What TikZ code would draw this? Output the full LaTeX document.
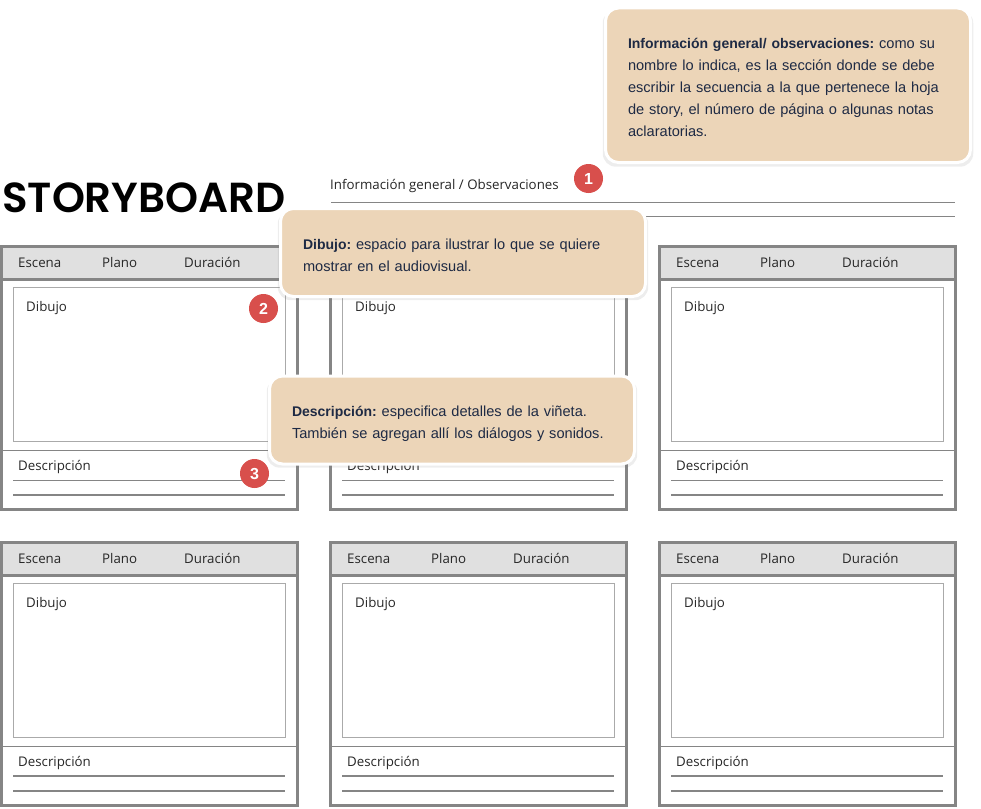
\documentclass[tikz,border=0pt]{standalone}
\usepackage{xcolor}
\usepackage{fontspec}
\setmainfont{Liberation Sans}
\newfontfamily\labelfont{Open Sans}
\newfontfamily\titlefont{Poppins}[BoldFont={Poppins SemiBold}]
\usetikzlibrary{positioning,shadows}
\definecolor{cFrame}{HTML}{858585}
\definecolor{cHead}{HTML}{E0E0E0}
\definecolor{cBox}{HTML}{ECD5B8}
\definecolor{cInk}{HTML}{1E2A44}
\definecolor{cMark}{HTML}{D84F4C}
\tikzset{
  frame/.style={draw=cFrame,line width=3pt},
  thin line/.style={draw=cFrame,line width=1.2pt},
  field/.style={anchor=base west,inner sep=0pt,font=\labelfont\fontsize{13.3}{15}\selectfont,text=black!85},
  note/.style={anchor=north west,draw=white,line width=3pt,fill=cBox,rounded corners=13pt,
    inner xsep=22pt,inner ysep=0pt,align=left,text=cInk,minimum width=365pt,text width=320pt,
    font=\frenchspacing\fontsize{14.6}{22}\selectfont,
    drop shadow={shadow xshift=0pt,shadow yshift=-3pt,opacity=.14,shadow scale=1.015}},
  badge/.style={circle,fill=cMark,text=white,minimum size=29pt,inner sep=0pt,font=\bfseries\fontsize{16}{16}\selectfont}
}
\newcommand{\lead}[2]{\rule{0pt}{#1pt}{\bfseries\fontsize{14}{22}\selectfont #2}}
\newcommand{\vineta}[3]{% <x> <y> <name>
  \begin{scope}[shift={(#1,#2)}]
    \fill[cHead] (0,0) rectangle (295.5,33);
    \draw[frame] (0,0) rectangle (295.5,263);
    \draw[frame,line width=2.5pt] (0,33) -- (295.5,33);
    \draw[draw=cFrame!70,line width=1pt] (11.8,41) rectangle (283.5,195);
    \draw[thin line] (0,204) -- (295.5,204);
    \draw[thin line,line width=1.4pt] (11.8,233.6) -- (283.5,233.6) (11.8,248.3) -- (283.5,248.3);
    \node[field] (#3esc) at (16.5,20.5) {Escena};
    \node[field] (#3pla) at (100.5,20.5) {Plano};
    \node[field] (#3dur) at (182.5,20.5) {Duración};
    \node[field] (#3dib) at (24.5,65) {Dibujo};
    \node[field] (#3des) at (16.5,223.5) {Descripción};
  \end{scope}}
\begin{document}
\begin{tikzpicture}[x=1pt,y=-1pt]
  \useasboundingbox (0,0) rectangle (981,808);
  % title and top lines
  \node[anchor=base west,inner sep=0pt,font=\titlefont\bfseries\fontsize{42}{42}\selectfont] (title) at (2,212) {STORYBOARD};
  \node[field] (info) at (330,189) {Información general / Observaciones};
  \draw[thin line] (331,202.5) -- (955,202.5) (331,216.5) -- (955,216.5);
  % panels
  \foreach \x/\nm in {1.5/a,330.5/b,659.5/c} {
    \vineta{\x}{246.7}{\nm}
    \vineta{\x}{542.5}{\nm low}
  }
  % badges
  \node[badge] (m1) at (588.5,178.5) {1};
  \node[badge] (m2) at (263.5,308.5) {2};
  \node[badge] (m3) at (254.5,473.5) {3};
  % notes
  \node[note,minimum height=154.5pt] (n1) at (604,6.5)
    {\lead{15}{Información general/ observaciones:} como su\\nombre lo indica, es la sección donde se debe\\escribir la secuencia a la que pertenece la hoja\\de story, el número de página o algunas notas\\aclaratorias.};
  \node[note,minimum height=88pt] (n2) at (279,207)
    {\lead{16.5}{Dibujo:} espacio para ilustrar lo que se quiere\\mostrar en el audiovisual.};
  \node[note,minimum height=88pt] (n3) at (268,374.5)
    {\lead{18.5}{Descripción:} especifica detalles de la viñeta.\\También se agregan allí los diálogos y sonidos.};
\end{tikzpicture}
\end{document}
